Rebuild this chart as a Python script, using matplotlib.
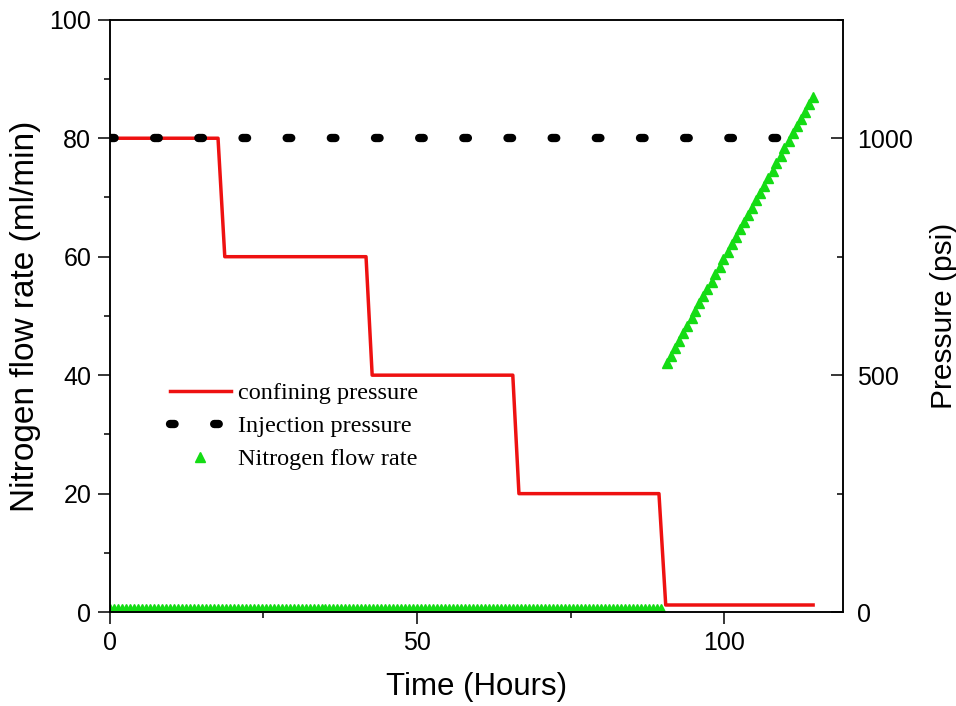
import matplotlib
matplotlib.use("Agg")
import matplotlib.pyplot as plt
from matplotlib.ticker import MultipleLocator

# confining pressure steps (psi, right axis)
conf_time = [0, 17.6, 18.7, 41.7, 42.7, 65.6, 66.6, 89.4, 90.5, 114.5]
conf_psi = [1000, 1000, 750, 750, 500, 500, 250, 250, 15, 15]

# injection pressure held constant (psi, right axis)
inj_time = [0, 114.5]
inj_psi = [1000, 1000]

# nitrogen flow rate (ml/min, left axis): near zero until the last stage
base_time = [
    0.00, 0.65, 1.30, 1.95, 2.60, 3.25, 3.90, 4.55, 5.20, 5.85,
    6.50, 7.15, 7.80, 8.45, 9.10, 9.75, 10.40, 11.05, 11.70, 12.35,
    13.00, 13.65, 14.30, 14.95, 15.60, 16.25, 16.90, 17.55, 18.20, 18.85,
    19.50, 20.15, 20.80, 21.45, 22.10, 22.75, 23.40, 24.05, 24.70, 25.35,
    26.00, 26.65, 27.30, 27.95, 28.60, 29.25, 29.90, 30.55, 31.20, 31.85,
    32.50, 33.15, 33.80, 34.45, 35.10, 35.75, 36.40, 37.05, 37.70, 38.35,
    39.00, 39.65, 40.30, 40.95, 41.60, 42.25, 42.90, 43.55, 44.20, 44.85,
    45.50, 46.15, 46.80, 47.45, 48.10, 48.75, 49.40, 50.05, 50.70, 51.35,
    52.00, 52.65, 53.30, 53.95, 54.60, 55.25, 55.90, 56.55, 57.20, 57.85,
    58.50, 59.15, 59.80, 60.45, 61.10, 61.75, 62.40, 63.05, 63.70, 64.35,
    65.00, 65.65, 66.30, 66.95, 67.60, 68.25, 68.90, 69.55, 70.20, 70.85,
    71.50, 72.15, 72.80, 73.45, 74.10, 74.75, 75.40, 76.05, 76.70, 77.35,
    78.00, 78.65, 79.30, 79.95, 80.60, 81.25, 81.90, 82.55, 83.20, 83.85,
    84.50, 85.15, 85.80, 86.45, 87.10, 87.75, 88.40, 89.05, 89.70,
]
base_flow = [0.6] * len(base_time)

ramp_time = [
    90.7, 91.4, 92.0, 92.7, 93.3, 94.0, 94.7, 95.3, 96.0, 96.6,
    97.3, 98.0, 98.6, 99.3, 99.9, 100.6, 101.3, 101.9, 102.6, 103.2,
    103.9, 104.6, 105.2, 105.9, 106.5, 107.2, 107.9, 108.5, 109.2, 109.8,
    110.5, 111.2, 111.8, 112.5, 113.1, 113.8, 114.5,
]
ramp_flow = [
    42.1, 43.3, 44.6, 45.8, 47.1, 48.3, 49.6, 50.8, 52.1, 53.3,
    54.6, 55.8, 57.1, 58.3, 59.6, 60.8, 62.1, 63.3, 64.6, 65.8,
    67.0, 68.3, 69.5, 70.8, 72.0, 73.3, 74.5, 75.8, 77.0, 78.3,
    79.5, 80.8, 82.0, 83.3, 84.5, 85.8, 87.0,
]

flow_time = base_time + ramp_time
flow_vals = base_flow + ramp_flow

sans = "Liberation Sans"
serif = "Liberation Serif"
green = "#14dc14"

fig = plt.figure(figsize=(9.56, 7.06), dpi=100)
ax = fig.add_axes([0.115, 0.133, 0.767, 0.839])
ax2 = ax.twinx()

flow_line, = ax.plot(flow_time, flow_vals, linestyle="none", marker="^",
                     markersize=7.5, color=green, label="Nitrogen flow rate")
conf_line, = ax2.plot(conf_time, conf_psi, color="#ee1111", lw=2.5,
                      label="confining pressure")
inj_line, = ax2.plot(inj_time, inj_psi, color="black", lw=6,
                     dashes=(0.55, 4.75), dash_capstyle="round",
                     label="Injection pressure")

ax.set_xlim(0, 119.4)
ax.set_ylim(0, 100)
ax2.set_ylim(0, 1250)

ax.xaxis.set_major_locator(MultipleLocator(50))
ax.xaxis.set_minor_locator(MultipleLocator(25))
ax.yaxis.set_major_locator(MultipleLocator(20))
ax.yaxis.set_minor_locator(MultipleLocator(10))
ax2.yaxis.set_major_locator(MultipleLocator(500))
ax2.yaxis.set_minor_locator(MultipleLocator(250))

for a in (ax, ax2):
    for s in a.spines.values():
        s.set_linewidth(1.1)

ax.tick_params(which="major", direction="out", length=8.5, width=1.1,
               labelsize=18, pad=5)
ax.tick_params(which="minor", direction="out", length=4, width=1.1)
ax2.tick_params(which="major", direction="in", length=8.5, width=1.1,
                labelsize=18, pad=10)
ax2.tick_params(which="minor", direction="in", length=4, width=1.1)

for lab in ax.get_xticklabels() + ax.get_yticklabels() + ax2.get_yticklabels():
    lab.set_family(sans)

ax.set_xlabel("Time (Hours)", fontsize=22.5, family=sans, labelpad=12)
ax.set_ylabel("Nitrogen flow rate (ml/min)", fontsize=24, family=sans,
              labelpad=6)
ax2.set_ylabel("Pressure (psi)", fontsize=21.5, family=sans, labelpad=12)

leg = ax2.legend(handles=[conf_line, inj_line, flow_line],
                 loc="upper left", bbox_to_anchor=(0.082, 0.388),
                 frameon=False, borderpad=0, borderaxespad=0,
                 handlelength=2.5, handletextpad=0.3, labelspacing=0.45,
                 numpoints=1, prop={"family": serif, "size": 17.5})

fig.savefig("out.png", dpi=100)
